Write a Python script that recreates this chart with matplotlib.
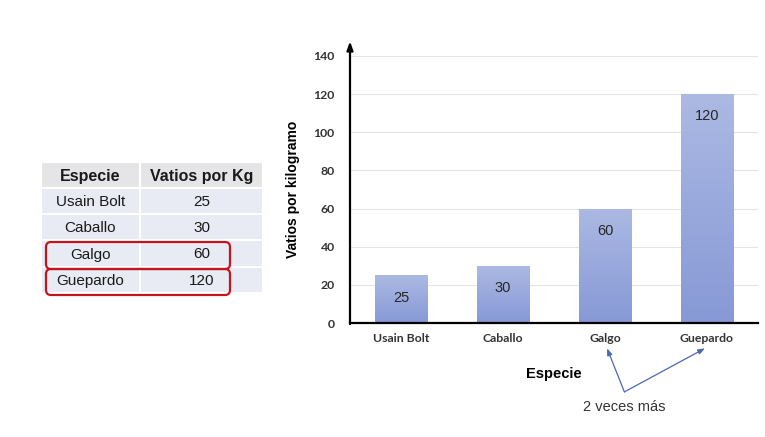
import matplotlib.pyplot as plt
import numpy as np
from matplotlib.colors import LinearSegmentedColormap
from matplotlib.patches import Rectangle, FancyBboxPatch

especies = ["Usain Bolt", "Caballo", "Galgo", "Guepardo"]
vatios = [25, 30, 60, 120]
yticks = [0, 20, 40, 60, 80, 100, 120, 140]
tabla_cols = ["Especie", "Vatios por Kg"]
resaltados = ["Galgo", "Guepardo"]

fig = plt.figure(figsize=(7.65, 4.37), dpi=100)
fig.patch.set_facecolor("white")

# overlay in pixel units for the table
ov = fig.add_axes([0, 0, 1, 1])
ov.set_xlim(0, 765)
ov.set_ylim(437, 0)
ov.axis("off")

col_x = [41, 140, 263]
row_y = [162, 188, 214, 240, 267, 293]
for r in range(len(row_y) - 1):
    fc = "#e5e5e7" if r == 0 else "#e8eaf4"
    for c in range(2):
        ov.add_patch(Rectangle((col_x[c], row_y[r]), col_x[c + 1] - col_x[c],
                               row_y[r + 1] - row_y[r], facecolor=fc,
                               edgecolor="white", lw=1.5))
for c, name in enumerate(tabla_cols):
    ov.text((col_x[c] + col_x[c + 1]) / 2, (row_y[0] + row_y[1]) / 2 + 1, name,
            ha="center", va="center", fontsize=11.5, fontweight="bold",
            family="Liberation Sans", color="#1a1a1a")
for r, (esp, v) in enumerate(zip(especies, vatios)):
    yc = (row_y[r + 1] + row_y[r + 2]) / 2 + 1
    ov.text((col_x[0] + col_x[1]) / 2, yc, esp, ha="center", va="center",
            fontsize=11, family="Liberation Sans", color="#1a1a1a")
    ov.text((col_x[1] + col_x[2]) / 2, yc, str(v), ha="center", va="center",
            fontsize=11, family="Liberation Sans", color="#1a1a1a")
    if esp in resaltados:
        ov.add_patch(FancyBboxPatch((46, row_y[r + 1] + 2), 184, row_y[r + 2] - row_y[r + 1],
                                    boxstyle="round,pad=0,rounding_size=5",
                                    facecolor="none", edgecolor="#c0171f", lw=1.6))

# bar chart
ax = fig.add_axes([350 / 765, 1 - 323 / 437, 408 / 765, 267 / 437])
ax.set_facecolor("none")
x = np.arange(len(especies))
bars = ax.bar(x, vatios, width=0.51, color="#98a9dd", edgecolor="#7a8cc9", lw=0.6, zorder=3)
cmap = LinearSegmentedColormap.from_list("barra", ["#8799d6", "#abb9e3"])
grad = np.linspace(0, 1, 100).reshape(-1, 1)
for b in bars:
    im = ax.imshow(grad, cmap=cmap, origin="lower", aspect="auto", zorder=3.5,
                   extent=[b.get_x(), b.get_x() + b.get_width(), 0, b.get_height()])
    im.set_clip_path(b)
ax.set_xlim(-0.5, 3.5)
ax.set_ylim(0, 140)
ax.set_yticks(yticks)
ax.set_xticks(x)
ax.set_xticklabels(especies)
ax.grid(axis="y", color="#e3e3e3", lw=0.8, zorder=0)
ax.tick_params(length=0, labelsize=8.8, labelcolor="#333333", pad=7)
for lab in ax.get_xticklabels() + ax.get_yticklabels():
    lab.set_fontweight("bold")
    lab.set_family("Lato")
ax.tick_params(axis="y", pad=11)
for s in ["top", "right", "left"]:
    ax.spines[s].set_visible(False)
ax.spines["bottom"].set_linewidth(1.6)
ax.spines["bottom"].set_zorder(5)
ax.annotate("", xy=(0, 1.055), xytext=(0, -0.004), xycoords="axes fraction",
            arrowprops=dict(arrowstyle="-|>,head_length=0.5,head_width=0.18",
                            color="black", lw=1.6, shrinkA=0, shrinkB=0), zorder=6)

for xi, v in zip(x, vatios):
    ax.text(xi, v - 8, str(v), ha="center", va="top", fontsize=10.5,
            family="Liberation Sans", color="#262626", zorder=6)

ax.set_ylabel("Vatios por kilogramo", fontsize=10, fontweight="bold",
              family="Liberation Sans", labelpad=10)
ax.set_xlabel("Especie", fontsize=10.5, fontweight="bold",
              family="Liberation Sans", labelpad=17)

# "2 veces más" callout pointing at Galgo and Guepardo
origen = (2.19, -0.258)
for i in [2, 3]:
    ax.annotate("", xy=(i + (0.02 if i == 2 else -0.02), -0.095), xytext=origen,
                xycoords=("data", "axes fraction"), textcoords=("data", "axes fraction"),
                arrowprops=dict(arrowstyle="-|>,head_length=0.4,head_width=0.15",
                                color="#4a69b0", lw=0.9, shrinkA=0, shrinkB=0),
                annotation_clip=False)
ax.text(origen[0], -0.315, "2 veces más", transform=ax.get_xaxis_transform(),
        ha="center", va="center", fontsize=10.5, family="Liberation Sans",
        color="#333333")

fig.savefig("out.png", dpi=100)
